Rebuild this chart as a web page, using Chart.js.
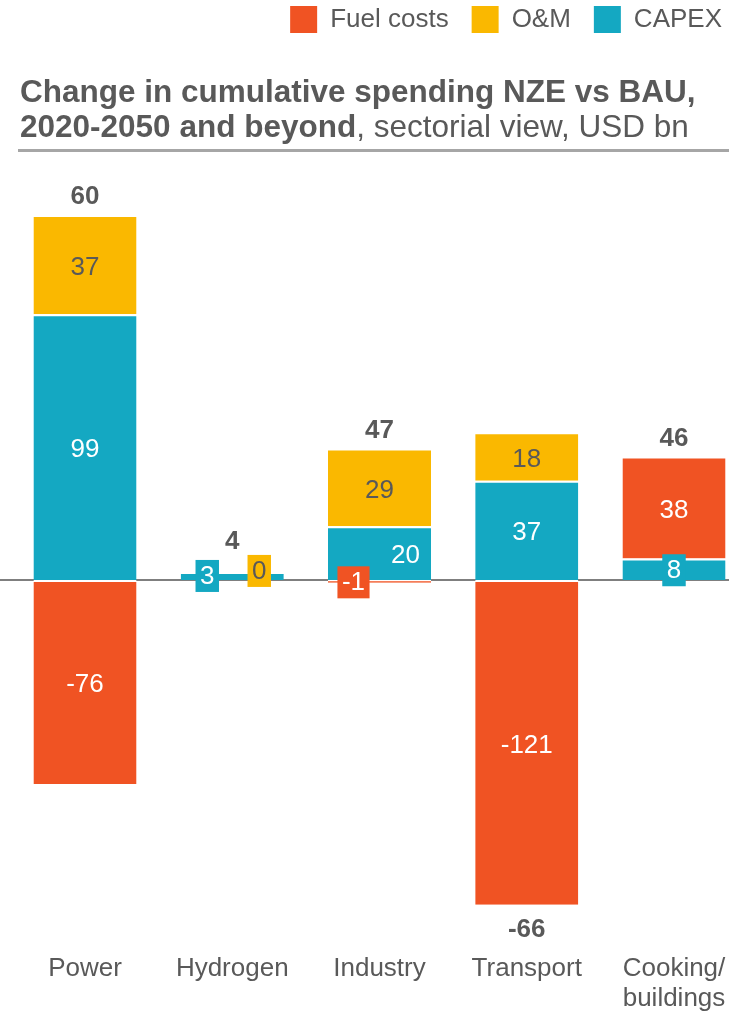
<!DOCTYPE html>
<html>
<head>
<meta charset="utf-8">
<script src="https://cdn.jsdelivr.net/npm/chart.js@4/dist/chart.umd.min.js"></script>
<style>
html,body{margin:0;padding:0;background:#fff;width:729px;height:1013px;overflow:hidden;position:relative;}
#wrap{position:absolute;left:0;top:-17px;width:745px;height:1030px;}
#title{position:absolute;left:20px;top:73.5px;font-family:"Liberation Sans",Arial,sans-serif;font-size:31.5px;line-height:35px;color:#595959;white-space:nowrap;}
#title b{font-weight:bold;}
#title span{font-weight:normal;}
#rule{position:absolute;left:18px;top:148.5px;width:711px;height:3px;background:#a6a6a6;}
</style>
</head>
<body>
<div id="wrap"><canvas id="c" width="745" height="1030"></canvas></div>
<div id="title"><b>Change in cumulative spending NZE vs BAU,<br>2020-2050 and beyond</b><span>, sectorial view, USD bn</span></div>
<div id="rule"></div>
<script>
// ---- data ----
const categories = ['Power', 'Hydrogen', 'Industry', 'Transport', ['Cooking/', 'buildings']];
const capex = [99, 3, 20, 37, 8];
const om = [37, 0, 29, 18, 0];
const fuel = [-76, 0, -1, -121, 38];
const totals = [60, 4, 47, -66, 46];
const seriesNames = ['CAPEX', 'O&M', 'Fuel costs'];

// ---- style ----
const seriesColors = ['#14A8C2', '#FAB800', '#F05323'];
const labelTextColors = ['#ffffff', '#595959', '#ffffff'];
const textGrey = '#595959';
const FONT = '"Liberation Sans", Arial, sans-serif';
// label placement tweaks keyed "categoryIndex|seriesIndex"
const labelNudges = {
  '1|0': {dx: -25, dy: 0, boxed: true},
  '1|1': {dx: 27, dy: -1, boxed: true},
  '2|2': {dx: -26, dy: 1, boxed: true},
  '2|0': {dx: 26, dy: 0, boxed: false},
  '4|0': {dx: 0, dy: 1, boxed: true}
};
const totalNudges = {1: -12};

Chart.defaults.font.family = FONT;
Chart.defaults.color = textGrey;

const zeroLine = {
  id: 'zeroLine',
  beforeDatasetsDraw(chart) {
    const ctx = chart.ctx;
    const y = Math.round(chart.scales.y.getPixelForValue(0));
    ctx.save();
    ctx.strokeStyle = '#7f7f7f';
    ctx.lineWidth = 2;
    ctx.beginPath();
    ctx.moveTo(0, y);
    ctx.lineTo(chart.width, y);
    ctx.stroke();
    ctx.restore();
  }
};

const valueLabels = {
  id: 'valueLabels',
  afterDatasetsDraw(chart) {
    const ctx = chart.ctx;
    const ys = chart.scales.y;
    ctx.save();
    ctx.textAlign = 'center';
    ctx.textBaseline = 'middle';
    chart.data.datasets.forEach((ds, i) => {
      const meta = chart.getDatasetMeta(i);
      meta.data.forEach((bar, j) => {
        const v = ds.data[j];
        const nudge = labelNudges[j + '|' + i];
        const p = bar.getProps(['x', 'y', 'base'], true);
        if (!nudge && Math.abs(p.base - p.y) < 30) return;
        const cx = p.x + (nudge ? nudge.dx : 0);
        const cy = (p.y + p.base) / 2 + (nudge ? nudge.dy : 0);
        const txt = String(v);
        ctx.font = '26px ' + FONT;
        const boxed = nudge && nudge.boxed;
        if (boxed) {
          const w = ctx.measureText(txt).width + 9;
          ctx.fillStyle = seriesColors[i];
          ctx.fillRect(cx - w / 2, cy - 16, w, 32);
        }
        ctx.fillStyle = labelTextColors[i];
        ctx.fillText(txt, cx, cy + (boxed ? 1 : 3));
      });
    });
    // totals
    ctx.font = 'bold 26px ' + FONT;
    ctx.fillStyle = textGrey;
    const meta0 = chart.getDatasetMeta(0);
    totals.forEach((t, j) => {
      let pos = 0, neg = 0;
      chart.data.datasets.forEach(ds => {
        const v = ds.data[j];
        if (v > 0) pos += v; else neg += v;
      });
      const x = meta0.data[j].x;
      let y;
      if (t >= 0) y = ys.getPixelForValue(pos) - 20;
      else y = ys.getPixelForValue(neg) + 23;
      y += (totalNudges[j] || 0);
      ctx.fillText(String(t), x, y + 2);
    });
    ctx.restore();
  }
};

const seriesData = [capex, om, fuel];
const datasets = seriesNames.map((name, i) => ({
  label: name,
  data: seriesData[i],
  backgroundColor: seriesColors[i],
  borderColor: '#ffffff',
  borderWidth: {top: 2, bottom: 0, left: 0, right: 0},
  borderSkipped: false,
  clip: false,
  xAxisID: 'x',
  yAxisID: 'y',
  categoryPercentage: 1,
  barPercentage: 0.7
}));

new Chart(document.getElementById('c'), {
  type: 'bar',
  data: {labels: categories, datasets},
  options: {
    responsive: false,
    animation: false,
    devicePixelRatio: 1,
    layout: {padding: 0},
    plugins: {
      tooltip: {enabled: false},
      legend: {
        position: 'top',
        align: 'end',
        reverse: true,
        labels: {
          boxWidth: 27,
          boxHeight: 27,
          padding: 23,
          color: textGrey,
          font: {size: 26, family: FONT},
          generateLabels(chart) {
            const items = Chart.defaults.plugins.legend.labels.generateLabels(chart);
            items.forEach(it => { it.lineWidth = 0; it.strokeStyle = 'rgba(0,0,0,0)'; });
            return items;
          }
        }
      }
    },
    scales: {
      x: {
        type: 'category',
        position: 'bottom',
        stacked: true,
        offset: false,
        grid: {display: true, drawOnChartArea: false, drawTicks: true, tickLength: 38, color: 'rgba(0,0,0,0)'},
        border: {display: false},
        ticks: {
          color: textGrey,
          font: {size: 26, family: FONT, lineHeight: '30px'},
          padding: 0,
          maxRotation: 0,
          autoSkip: false
        },
        afterFit(s) { s.height = 97.5; }
      },
      xTop: {
        type: 'category',
        position: 'top',
        display: true,
        grid: {display: false, drawTicks: false},
        border: {display: false},
        ticks: {display: false},
        afterFit(s) { s.height = 161.2; }
      },
      y: {
        type: 'linear',
        position: 'left',
        stacked: true,
        min: -125,
        max: 140,
        grid: {display: false, drawTicks: false},
        border: {display: false},
        ticks: {display: false},
        afterFit(s) { s.width = 85; }
      },
      yRight: {
        type: 'linear',
        position: 'right',
        display: true,
        grid: {display: false, drawTicks: false},
        border: {display: false},
        ticks: {display: false},
        afterFit(s) { s.width = 71; }
      }
    }
  },
  plugins: [zeroLine, valueLabels]
});
</script>
</body>
</html>
